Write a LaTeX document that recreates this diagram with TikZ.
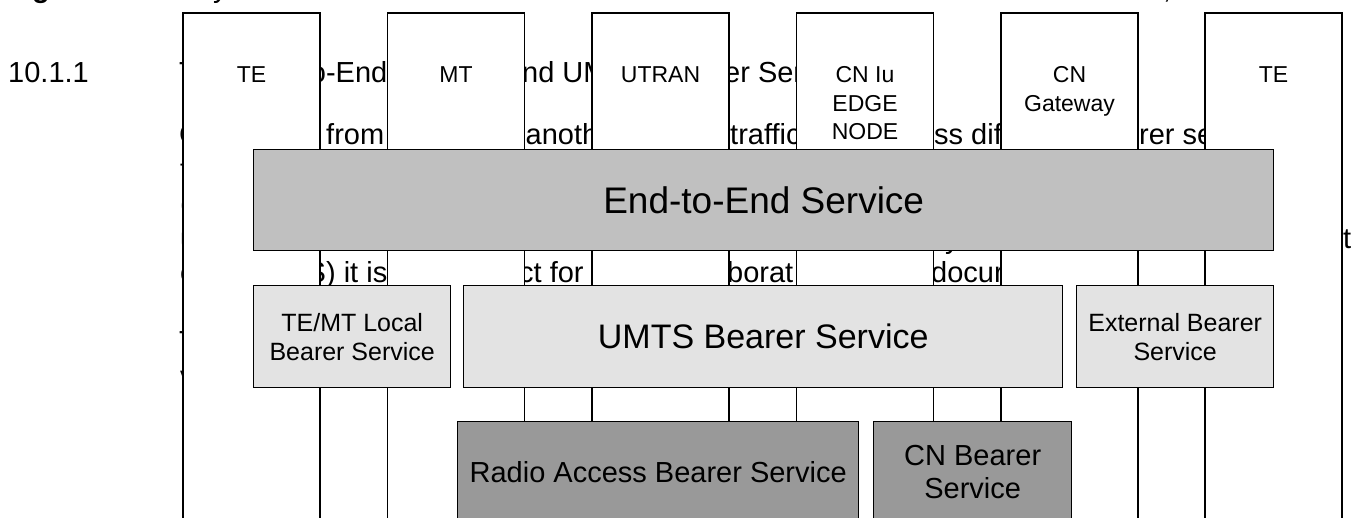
\documentclass[tikz,border=0pt]{standalone}
\usepackage{fontspec}
\setmainfont{Liberation Sans}
\begin{document}
\begin{tikzpicture}[x=1pt,y=-1pt,
  doc/.style={inner sep=0pt, anchor=base west, font=\fontsize{29}{34}\selectfont},
  docE/.style={doc, anchor=base east},
  column/.style={draw, line width=1.4pt, fill=white, anchor=north, minimum width=137pt, minimum height=540pt, inner sep=0pt},
  colabel/.style={inner sep=0pt, anchor=north, align=center, font=\fontsize{23}{28.5}\selectfont},
  band/.style={draw, line width=1.4pt, anchor=north west, inner sep=0pt, align=center},
  topband/.style={band, fill={rgb,255:red,192;green,192;blue,192}, font=\fontsize{37}{42}\selectfont},
  midband/.style={band, fill={rgb,255:red,227;green,227;blue,227}},
  lowband/.style={band, fill={rgb,255:red,153;green,153;blue,153}, font=\fontsize{29}{33}\selectfont},
  smalltext/.style={font=\fontsize{25}{29}\selectfont},
  bigtext/.style={font=\fontsize{34}{38}\selectfont}
]
\useasboundingbox (0,0) rectangle (1351,518);
\clip (0,0) rectangle (1351,518);

% page text lying underneath the figure
\node[doc, font=\fontsize{29}{34}\selectfont\bfseries] (t0a) at (32,-2) {g};
\node[doc] (t0b) at (213,-2) {y};
\node[doc] (t0c) at (1163,-1) {,};

\node[doc] (t1a) at (8,83) {10.1.1};
\node[doc] (t1b) at (179,83) {T};
\node[docE] (t1c) at (387.5,83) {o-End};
\node[doc] (t1d) at (522,83) {nd UM};
\node[doc] (t1e) at (724,83) {er Ser};

\node[doc] (t2a) at (179,145) {C};
\node[doc] (t2b) at (326,145) {from};
\node[doc] (t2c) at (525.5,145) {anoth};
\node[doc] (t2d) at (730,145) {traffic};
\node[doc] (t2e) at (934,145) {ss dif};
\node[doc] (t2f) at (1139,145) {rer se};

\node[doc] (t3a) at (180,179.5) {t};
\node[doc] (t4a) at (180,214) {(};
\node[doc] (t5a) at (180,248.5) {u};
\node[doc] (t5b) at (945,248.5) {y};
\node[doc] (t5c) at (1343,248.5) {t};

\node[doc] (t6a) at (180,283) {c};
\node[docE] (t6b) at (387.5,283) {S) it is};
\node[doc] (t6c) at (519,283) {ct for};
\node[doc] (t6d) at (727,283) {borat};
\node[doc] (t6e) at (931,283) {docur};

\node[doc] (t8a) at (179,352) {T};
\node[doc] (t9a) at (180,386.5) {v};

% network elements
\node[column] (te1)  at (251.5,12.5) {};
\node[column] (mt)   at (456,12.5) {};
\node[column] (utr)  at (660.5,12.5) {};
\node[column] (cniu) at (865,12.5) {};
\node[column] (cngw) at (1069.5,12.5) {};
\node[column] (te2)  at (1273.5,12.5) {};

\node[colabel] (lte1)  at (251.5,66.5) {TE};
\node[colabel] (lmt)   at (456,66.5) {MT};
\node[colabel] (lutr)  at (660.5,66.5) {UTRAN};
\node[colabel] (lcniu) at (865,66.5) {CN Iu\\EDGE\\NODE};
\node[colabel] (lcngw) at (1069.5,66.5) {CN\\Gateway};
\node[colabel] (lte2)  at (1273.5,66.5) {TE};

% bearer service layers
\node[topband, minimum width=1020pt, minimum height=101pt] (e2e) at (253,149) {End-to-End Service};

\node[midband, smalltext, minimum width=197pt, minimum height=102pt] (local) at (253,285) {TE/MT Local\\Bearer Service};
\node[midband, bigtext, minimum width=599pt, minimum height=102pt] (umts) at (463,285) {UMTS Bearer Service};
\node[midband, smalltext, minimum width=197pt, minimum height=102pt] (ext) at (1076,285) {External Bearer\\Service};

\node[lowband, minimum width=401pt, minimum height=100pt] (rab) at (457,421) {Radio Access Bearer Service};
\node[lowband, minimum width=198pt, minimum height=100pt] (cnb) at (873,421) {CN Bearer\\Service};
\end{tikzpicture}
\end{document}
